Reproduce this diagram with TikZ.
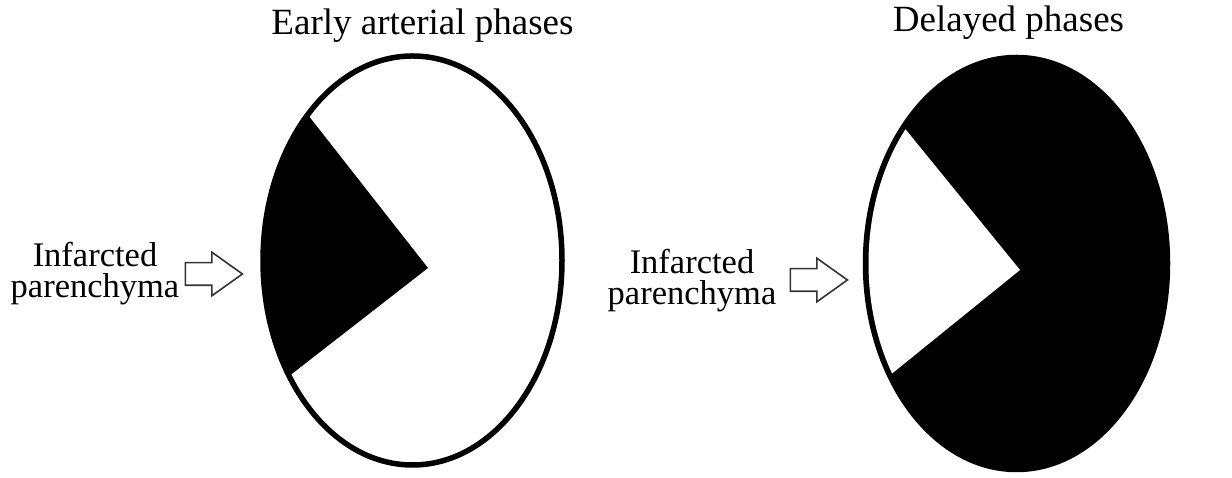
\documentclass[tikz,border=0pt]{standalone}
\usepackage{fontspec}
\setmainfont{Liberation Serif}
\usetikzlibrary{shapes,arrows,calc}
\usetikzlibrary{positioning}
\tikzstyle{blockarrow}=[draw=black!80, line width=1.6, fill=white, single arrow, inner sep=0, text height=21, text depth=0, text width=0, minimum height=57, single arrow head extend=10.5, single arrow tip angle=71]
\tikzstyle{phasetitle}=[anchor=base, font=\fontsize{37}{37}\selectfont]
\tikzstyle{infarct}=[anchor=base, align=center, font=\fontsize{34.5}{31}\selectfont]

\begin{document}
\begin{tikzpicture}[x=1pt, y=1pt, line width=5.5]
    \useasboundingbox (0, 0) rectangle (1232, 478) ;
    %\draw[help lines, step=50] (0,0) grid (1232, 478) ;
    % early arterial phase
    \coordinate (ec) at (412.5, 217.5) ;
    \coordinate (ev) at (428, 210) ;
    \fill (ev) -- ($(ec)+(134.5:149.5 and 204.5)$) arc[start angle=134.5, end angle=214.4, x radius=149.5, y radius=204.5] -- cycle ;
    \draw (ec) ellipse [x radius=149.5, y radius=204.5] ;
    \node[phasetitle] (early) at (422.5, 443) {Early arterial phases} ;
    % delayed phase
    \coordinate (dc) at (1016.5, 214.5) ;
    \coordinate (dv) at (1020, 208) ;
    \filldraw (dc) ellipse [x radius=151, y radius=206] ;
    \fill[white] (dv) -- ($(dc)+(138.6:148 and 203)$) arc[start angle=138.6, end angle=212.8, x radius=148, y radius=203] -- cycle ;
    \node[phasetitle] (delayed) at (1008.5, 446) {Delayed phases} ;
    % labels
    \node[infarct] (infl) at (95, 180) {Infarcted\\parenchyma} ;
    \node[blockarrow] (arl) at (206, 204) {} ;
    \node[infarct] (infr) at (692, 173) {Infarcted\\parenchyma} ;
    \node[blockarrow] (arr) at (811, 198) {} ;
\end{tikzpicture}
\end{document}
